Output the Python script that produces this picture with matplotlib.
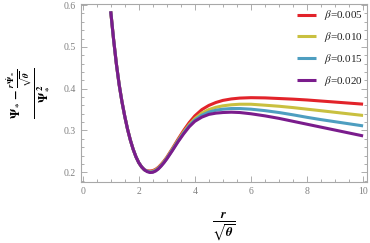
import matplotlib
matplotlib.use("Agg")
import matplotlib.pyplot as plt
from matplotlib.ticker import MultipleLocator

plt.rcParams['mathtext.fontset'] = 'stix'
plt.rcParams['font.family'] = ['Liberation Serif', 'DejaVu Serif']

# shared descending branch (all curves coincide here)
x_common = [1.0, 1.1, 1.2, 1.3, 1.4, 1.5, 1.6, 1.7, 1.8, 1.9, 2.0, 2.1, 2.2]
y_common = [0.585, 0.519, 0.460, 0.410, 0.369, 0.334, 0.303, 0.277, 0.255, 0.237, 0.223, 0.213, 0.206]

x_tail = [2.3, 2.4, 2.5, 2.6, 2.7, 2.8, 2.9, 3.0, 3.2, 3.4, 3.6, 3.8, 4.0, 4.25, 4.5, 4.75,
          5.0, 5.3, 5.6, 6.0, 6.5, 7.0, 7.5, 8.0, 8.5, 9.0, 9.5, 10.0]
y_b005 = [0.2035, 0.203, 0.204, 0.207, 0.212, 0.219, 0.227, 0.236, 0.257, 0.279, 0.300, 0.319,
          0.335, 0.350, 0.360, 0.367, 0.372, 0.3755, 0.3775, 0.3785, 0.378, 0.3765, 0.375,
          0.373, 0.3705, 0.368, 0.3655, 0.363]
y_b010 = [0.203, 0.2015, 0.2025, 0.2055, 0.2105, 0.2175, 0.2255, 0.2345, 0.255, 0.2765, 0.2965,
          0.314, 0.3285, 0.3415, 0.350, 0.3555, 0.359, 0.3615, 0.3628, 0.3628, 0.3605, 0.358,
          0.3548, 0.351, 0.3473, 0.3435, 0.3397, 0.336]
y_b015 = [0.2025, 0.2005, 0.201, 0.204, 0.209, 0.216, 0.224, 0.233, 0.2535, 0.2745, 0.294,
          0.3115, 0.325, 0.3365, 0.344, 0.3485, 0.351, 0.3525, 0.3525, 0.351, 0.3475, 0.343,
          0.3375, 0.3315, 0.326, 0.321, 0.316, 0.311]
y_b020 = [0.2015, 0.1995, 0.200, 0.203, 0.208, 0.215, 0.223, 0.232, 0.252, 0.273, 0.292, 0.309,
          0.322, 0.332, 0.3385, 0.3415, 0.343, 0.3438, 0.343, 0.340, 0.335, 0.329, 0.322,
          0.315, 0.308, 0.301, 0.294, 0.287]

labels = [r'$\beta$=0.005', r'$\beta$=0.010', r'$\beta$=0.015', r'$\beta$=0.020']
colors = ['#E2232A', '#C9C040', '#4E9EC0', '#7A1C8C']
series = [y_b005, y_b010, y_b015, y_b020]

fig = plt.figure(figsize=(3.70, 2.43), dpi=100)
ax = fig.add_axes([80.5 / 370, 1 - 181.7 / 243, (367.3 - 80.5) / 370, (181.7 - 4) / 243])

for ys, c, lab in zip(series, colors, labels):
    ax.plot(x_common + x_tail, y_common + ys, color=c, lw=2.2, label=lab,
            solid_capstyle='butt', solid_joinstyle='round')

ax.set_xlim(-0.078, 10.15)
ax.set_ylim(0.1775, 0.6026)
ax.xaxis.set_major_locator(MultipleLocator(2))
ax.xaxis.set_minor_locator(MultipleLocator(0.5))
ax.yaxis.set_major_locator(MultipleLocator(0.1))
ax.yaxis.set_minor_locator(MultipleLocator(0.02))
ax.xaxis.set_major_formatter(plt.FuncFormatter(lambda v, p: f'{v:g}'))
ax.yaxis.set_major_formatter(plt.FuncFormatter(lambda v, p: f'{v:.1f}'))
ax.tick_params(which='both', direction='in', top=True, right=True, colors='#A0A0A0',
               labelcolor='#808080', labelsize=7, width=0.6)
ax.tick_params(which='major', length=4)
ax.tick_params(which='minor', length=2)
for s in ax.spines.values():
    s.set_color('#A8A8A8')
    s.set_linewidth(0.8)

ax.set_ylabel(r'$\mathbf{\frac{\Psi_* - \frac{\mathbfit{r}\,\dot{\Psi}_*}{\sqrt{\mathbfit{\theta}}}}{\Psi_*^{\ 2}}}$',
              fontsize=13)
ax.yaxis.set_label_coords(-0.105, 0.5)
ax.set_xlabel(r'$\frac{\mathbfit{r}}{\sqrt{\mathbfit{\theta}}}$', fontsize=13)
ax.xaxis.set_label_coords(0.5, -0.16)

leg = ax.legend(loc='upper right', frameon=False, fontsize=8, handlelength=1.7,
                labelspacing=0.7, handletextpad=0.7, borderaxespad=0.0,
                bbox_to_anchor=(1.0, 1.0))
for t in leg.get_texts():
    t.set_color('#222222')

fig.savefig('out.png', dpi=100)
